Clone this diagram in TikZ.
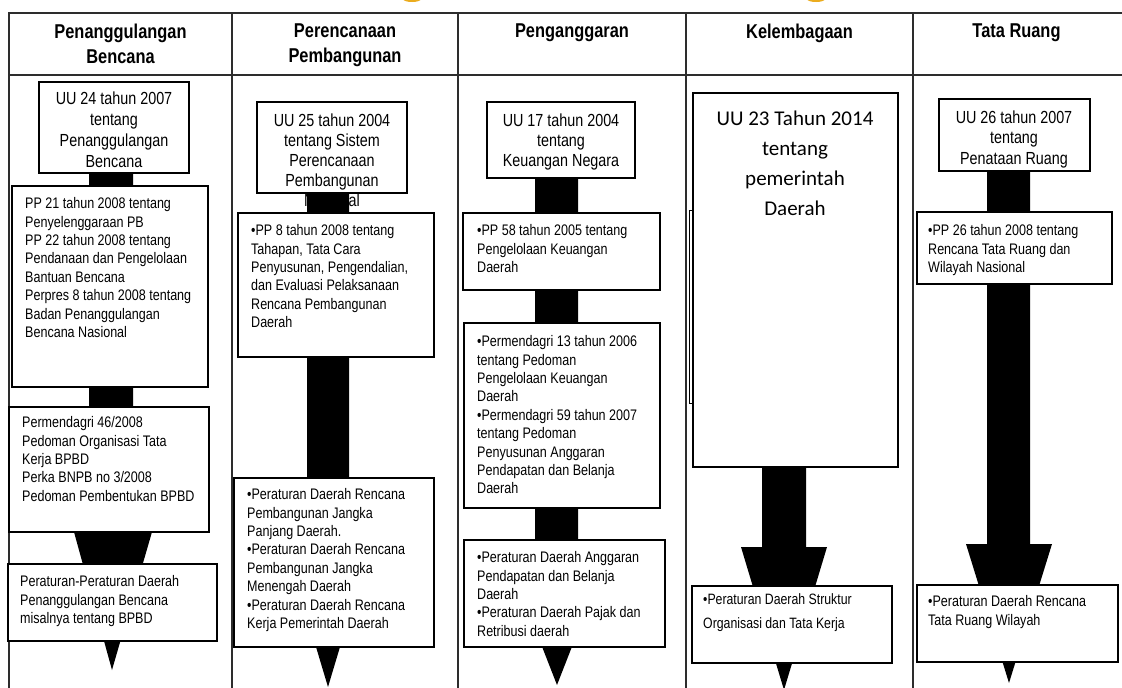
\documentclass[tikz,border=0pt]{standalone}
\usepackage{fontspec}
\setmainfont{Liberation Sans}[FakeStretch=0.82]
\newfontfamily\calib{Carlito}
\usetikzlibrary{fit}
\definecolor{gold}{RGB}{235,172,30}
\definecolor{rulec}{RGB}{45,45,45}
\tikzset{
  box/.style={draw=black, line width=1.3pt, fill=white, inner sep=0pt},
  txt/.style={anchor=north west, inner sep=0pt, align=left, font={\fontsize{15.3}{18.4}\selectfont}},
  utxt/.style={anchor=north, inner sep=0pt, align=center, font={\fontsize{17.5}{20.4}\selectfont}},
  head/.style={anchor=north, inner sep=0pt, align=center, font={\bfseries\fontsize{20}{25}\selectfont}},
  rl/.style={draw=rulec, line width=2pt},
  arr/.style={fill=black}
}
\begin{document}
\begin{tikzpicture}[x=1pt,y=-1pt]
\useasboundingbox (0,0) rectangle (1122,688);
\clip (0,0) rectangle (1122,688);
\fill[white] (0,0) rectangle (1122,688);
% cut-off title
\fill[gold] (412,-1) ellipse [x radius=9, y radius=3];
\fill[gold] (816,-1) ellipse [x radius=9, y radius=3];
% table
\draw[rl] (9,690) -- (9,13) -- (1124,13);
\draw[rl] (9,75) -- (1124,75);
\foreach \xx in {232,458,686,913} \draw[rl] (\xx,13) -- (\xx,690);
% headers
\node[head] (h1) at (120.5,23.7) {Penanggulangan\\Bencana};
\node[head] (h2) at (345,23.7) {Perencanaan\\Pembangunan};
\node[head] (h3) at (572,23.7) {Penganggaran};
\node[head] (h4) at (799.5,23.7) {Kelembagaan};
\node[head] (h5) at (1016.5,23.7) {Tata Ruang};

% ---------- column 1
\node[box, fit={(39,82) (189,173)}] (u1) {};
\node[utxt, font={\fontsize{17.5}{21}\selectfont}] (tu1) at (114,89.8) {\strut UU 24 tahun 2007\\tentang\\Penanggulangan\\Bencana};
\fill[arr] (89,173) -- (133,173) -- (133,532) -- (152,532) -- (112,670) -- (74,532) -- (89,532) -- cycle;
\node[box, fit={(12,186) (208,387)}] (b12) {};
\node[txt] (tb12) at (25,195.6) {\strut PP 21 tahun 2008 tentang\\Penyelenggaraan PB\\PP 22 tahun 2008 tentang\\Pendanaan dan Pengelolaan\\Bantuan Bencana\\Perpres 8 tahun 2008 tentang\\Badan Penanggulangan\\Bencana Nasional};
\node[box, fit={(9,407) (209,532)}] (b13) {};
\node[txt] (tb13) at (22,414.6) {\strut Permendagri 46/2008\\Pedoman Organisasi Tata\\Kerja BPBD\\Perka BNPB no 3/2008\\Pedoman Pembentukan BPBD};
\node[box, fit={(8,564) (217,641)}] (b14) {};
\node[txt] (tb14) at (20,573.6) {\strut Peraturan-Peraturan Daerah\\Penanggulangan Bencana\\misalnya tentang  BPBD};

% ---------- column 2
\node[box, fit={(257,102) (407,193)}] (u2) {};
\node[utxt, font={\fontsize{17.5}{20.2}\selectfont}] (tu2) at (332,111.8) {\strut UU 25 tahun 2004\\tentang Sistem\\Perencanaan\\Pembangunan\\Nasional};
\fill[arr] (307,193) -- (349,193) -- (349,560) -- (366,560) -- (328,687) -- (290,560) -- (307,560) -- cycle;
\node[box, fit={(238,213) (434,357)}] (b22) {};
\node[txt] (tb22) at (251,222.6) {\strut •PP 8 tahun 2008 tentang\\Tahapan, Tata Cara\\Penyusunan, Pengendalian,\\dan Evaluasi Pelaksanaan\\Rencana Pembangunan\\Daerah};
\node[box, fit={(234,478) (434,647)}] (b23) {};
\node[txt] (tb23) at (247,486.6) {\strut •Peraturan Daerah Rencana\\Pembangunan Jangka\\Panjang Daerah.\\•Peraturan Daerah Rencana\\Pembangunan Jangka\\Menengah Daerah\\•Peraturan Daerah Rencana\\Kerja Pemerintah Daerah};

% ---------- column 3
\node[box, fit={(487,102) (635,178)}] (u3) {};
\node[utxt, font={\fontsize{17.5}{20.2}\selectfont}] (tu3) at (561,111.8) {\strut UU 17 tahun 2004\\tentang\\Keuangan Negara};
\fill[arr] (535,178) -- (578,178) -- (578,580) -- (598,580) -- (557,685) -- (516,580) -- (535,580) -- cycle;
\node[box, fit={(463,213) (660,290)}] (b32) {};
\node[txt] (tb32) at (477,222.6) {\strut •PP 58 tahun 2005 tentang\\Pengelolaan Keuangan\\Daerah};
\node[box, fit={(464,323) (660,508)}] (b33) {};
\node[txt] (tb33) at (477,333.6) {\strut •Permendagri 13 tahun 2006\\tentang Pedoman\\Pengelolaan Keuangan\\Daerah\\•Permendagri 59 tahun 2007\\tentang Pedoman\\Penyusunan Anggaran\\Pendapatan dan Belanja\\Daerah};
\node[box, fit={(464,540) (665,647)}] (b34) {};
\node[txt] (tb34) at (477,549.6) {\strut •Peraturan Daerah Anggaran\\Pendapatan dan Belanja\\Daerah\\•Peraturan Daerah Pajak dan\\Retribusi daerah};

% ---------- column 4
\node[box, line width=1pt, fit={(689,210) (760,403)}] (hb4) {};
\node[box, fit={(693,93) (898,467)}] (u4) {};
\node[utxt, font={\calib\fontsize{21}{30}\selectfont}] (tu4) at (795,103.8) {\strut UU 23 Tahun 2014\\tentang\\pemerintah\\Daerah};
\fill[arr] (762,467) -- (806,467) -- (806,547) -- (827,547) -- (784,690) -- (741,547) -- (762,547) -- cycle;
\node[box, fit={(692,586) (892,663)}] (b42) {};
\node[txt, font={\fontsize{15}{24}\selectfont}] (tb42) at (703,587.5) {\strut •Peraturan Daerah Struktur\\Organisasi dan Tata Kerja};

% ---------- column 5
\node[box, fit={(939,99) (1090,171)}] (u5) {};
\node[utxt, font={\fontsize{17.5}{20.5}\selectfont}] (tu5) at (1014,108.8) {\strut UU 26 tahun 2007\\tentang\\Penataan Ruang};
\fill[arr] (987,171) -- (1030,171) -- (1030,544) -- (1052,544) -- (1009,683) -- (966,544) -- (987,544) -- cycle;
\node[box, fit={(917,212) (1112,284)}] (b52) {};
\node[txt] (tb52) at (928,222.6) {\strut •PP 26 tahun 2008 tentang\\Rencana Tata Ruang dan\\Wilayah Nasional};
\node[box, fit={(917,585) (1118,662)}] (b53) {};
\node[txt] (tb53) at (928,593.6) {\strut •Peraturan Daerah Rencana\\Tata Ruang Wilayah};
\end{tikzpicture}
\end{document}
